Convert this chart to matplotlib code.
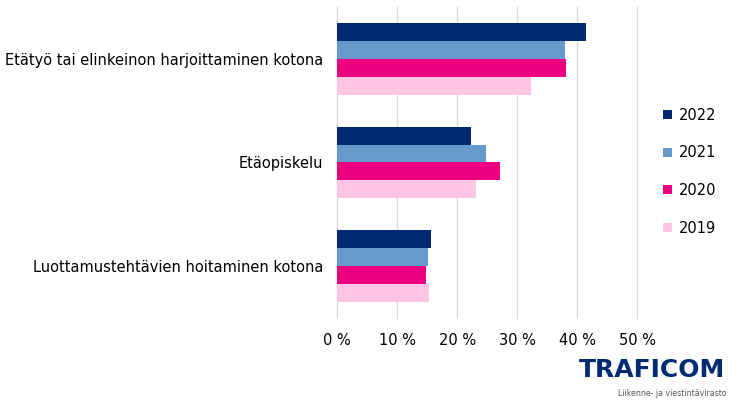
import matplotlib
matplotlib.use("Agg")
import matplotlib.pyplot as plt
import numpy as np
from matplotlib.patches import Patch

categories = ["Etätyö tai elinkeinon harjoittaminen kotona", "Etäopiskelu",
              "Luottamustehtävien hoitaminen kotona"]
years = ["2022", "2021", "2020", "2019"]
values = {
    "2022": [41.4, 22.3, 15.6],
    "2021": [38.0, 24.8, 15.1],
    "2020": [38.1, 27.1, 14.8],
    "2019": [32.3, 23.1, 15.3],
}
colors = {"2022": "#002B73", "2021": "#6699CC", "2020": "#EC0080", "2019": "#FFC5E3"}
xticks = [0, 10, 20, 30, 40, 50]

plt.rcParams['font.family'] = ['DejaVu Sans']
fig = plt.figure(figsize=(7.38, 4.0), dpi=100)
ax = fig.add_axes([0.457, 0.2058, 0.4065, 0.776])

y = np.arange(len(categories))
h = 0.172
for i, yr in enumerate(years):
    ax.barh(y + (i - 1.5) * h, values[yr], height=h, color=colors[yr], zorder=3)

ax.set_xlim(0, 50)
ax.set_ylim(2.5, -0.5)
ax.set_yticks(y)
ax.set_yticklabels(categories, fontsize=10.5)
ax.set_xticks(xticks)
ax.set_xticklabels([f"{t} %" for t in xticks], fontsize=10.5)
ax.tick_params(axis='y', length=0, pad=10)
ax.tick_params(axis='x', length=0, pad=11)
ax.grid(axis='x', color='#D9D9D9', linewidth=1, zorder=0)
for gl in ax.get_xgridlines():
    gl.set_clip_on(False)
for s in ax.spines.values():
    s.set_visible(False)

handles = [Patch(facecolor=colors[yr], label=yr) for yr in years]
fig.legend(handles=handles, loc='center left', bbox_to_anchor=(0.881, 0.571),
           frameon=False, fontsize=10.5, handlelength=0.6, handleheight=0.6,
           handletextpad=0.5, labelspacing=1.55)

fig.text(0.985, 0.017, "Liikenne- ja viestintävirasto", ha='right', va='center',
         fontsize=5.6, color='#555555')
fig.text(0.982, 0.075, "TRAFICOM", ha='right', va='center', fontsize=18,
         fontweight='bold', color='#002B73')

fig.savefig("out.png", dpi=100)
